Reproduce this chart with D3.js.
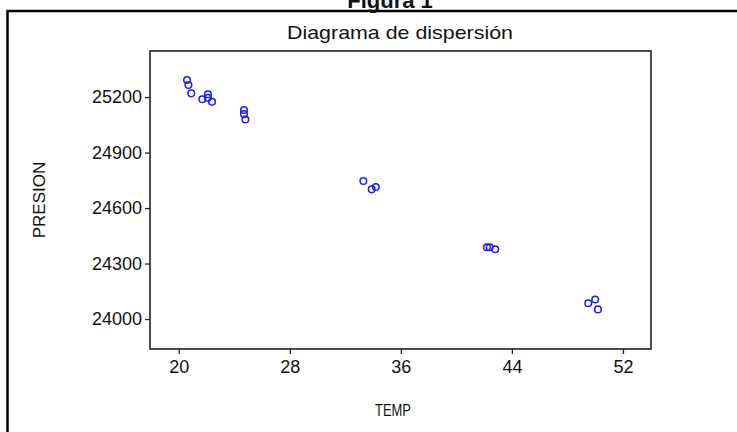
<!DOCTYPE html>
<html>
<head>
<meta charset="utf-8">
<script src="https://cdn.jsdelivr.net/npm/d3@7"></script>
<style>
  body { margin: 0; background: #fff; }
  text { font-family: "Liberation Sans", Arial, sans-serif; fill: #111; }
</style>
</head>
<body>
<script>
// tamaño del lienzo
const width = 737;
const height = 432;

// datos
const temp = [20.6, 20.7, 20.9, 21.7, 22.1, 22.1, 22.4, 24.7, 24.7, 24.8,
  33.3, 33.9, 34.2, 42.2, 42.4, 42.8, 49.5, 50.0, 50.2];
const presion = [25292, 25265, 25220, 25188, 25215, 25196, 25175, 25130, 25108, 25079,
  24746, 24701, 24714, 24388, 24388, 24377, 24085, 24106, 24052];
const xTicks = [20, 28, 36, 44, 52];
const yTicks = [24000, 24300, 24600, 24900, 25200];

const plot = { left: 150, right: 651, top: 51, bottom: 349 };

const svg = d3.select('body')
  .append('svg')
  .attr('width', width)
  .attr('height', height);

// marco exterior
svg.append('path')
  .attr('d', 'M7.5,' + height + ' V11 H' + width)
  .attr('fill', 'none')
  .attr('stroke', '#000')
  .attr('stroke-width', 2.5);

// título de la figura (cortado arriba, como en el original)
svg.append('text')
  .attr('x', 390)
  .attr('y', 8)
  .attr('text-anchor', 'middle')
  .style('font-size', '22px')
  .style('font-weight', 'bold')
  .text('Figura 1');

svg.append('text')
  .attr('x', 400)
  .attr('y', 39)
  .attr('text-anchor', 'middle')
  .attr('textLength', 226)
  .attr('lengthAdjust', 'spacingAndGlyphs')
  .style('font-size', '19px')
  .text('Diagrama de dispersión');

// escalas
const x = d3.scaleLinear()
  .domain([17.93, 54.02])
  .range([plot.left, plot.right]);

const y = d3.scaleLinear()
  .domain([23838, 25449])
  .range([plot.bottom, plot.top]);

// caja del gráfico
svg.append('rect')
  .attr('x', plot.left)
  .attr('y', plot.top)
  .attr('width', plot.right - plot.left)
  .attr('height', plot.bottom - plot.top)
  .attr('fill', 'none')
  .attr('stroke', '#222')
  .attr('stroke-width', 1.6);

// eje x
const xAxis = svg.append('g')
  .attr('transform', 'translate(0,' + plot.bottom + ')')
  .call(d3.axisBottom(x).tickValues(xTicks).tickSize(5).tickPadding(6));
xAxis.select('.domain').remove();
xAxis.selectAll('line').attr('stroke', '#222').attr('stroke-width', 1.3);
xAxis.selectAll('text')
  .style('font-size', '18px')
  .style('font-family', '"Liberation Sans", Arial, sans-serif')
  .attr('fill', '#111');

// eje y
const yAxis = svg.append('g')
  .attr('transform', 'translate(' + plot.left + ',0)')
  .call(d3.axisLeft(y).tickValues(yTicks).tickSize(5).tickPadding(3).tickFormat(d3.format('d')));
yAxis.select('.domain').remove();
yAxis.selectAll('line').attr('stroke', '#222').attr('stroke-width', 1.3);
yAxis.selectAll('text')
  .style('font-size', '18px')
  .style('font-family', '"Liberation Sans", Arial, sans-serif')
  .attr('fill', '#111');

// títulos de ejes
svg.append('text')
  .attr('x', 393)
  .attr('y', 416)
  .attr('text-anchor', 'middle')
  .attr('textLength', 36)
  .attr('lengthAdjust', 'spacingAndGlyphs')
  .style('font-size', '16px')
  .text('TEMP');

svg.append('text')
  .attr('transform', 'translate(45,200) rotate(-90)')
  .attr('text-anchor', 'middle')
  .style('font-size', '17px')
  .text('PRESION');

// puntos
svg.selectAll('.punto')
  .data(temp)
  .enter()
  .append('circle')
  .attr('class', 'punto')
  .attr('cx', function(d) { return x(d); })
  .attr('cy', function(d, i) { return y(presion[i]); })
  .attr('r', 3.3)
  .attr('fill', 'none')
  .attr('stroke', '#1a1aff')
  .attr('stroke-width', 1.5);
</script>
</body>
</html>
